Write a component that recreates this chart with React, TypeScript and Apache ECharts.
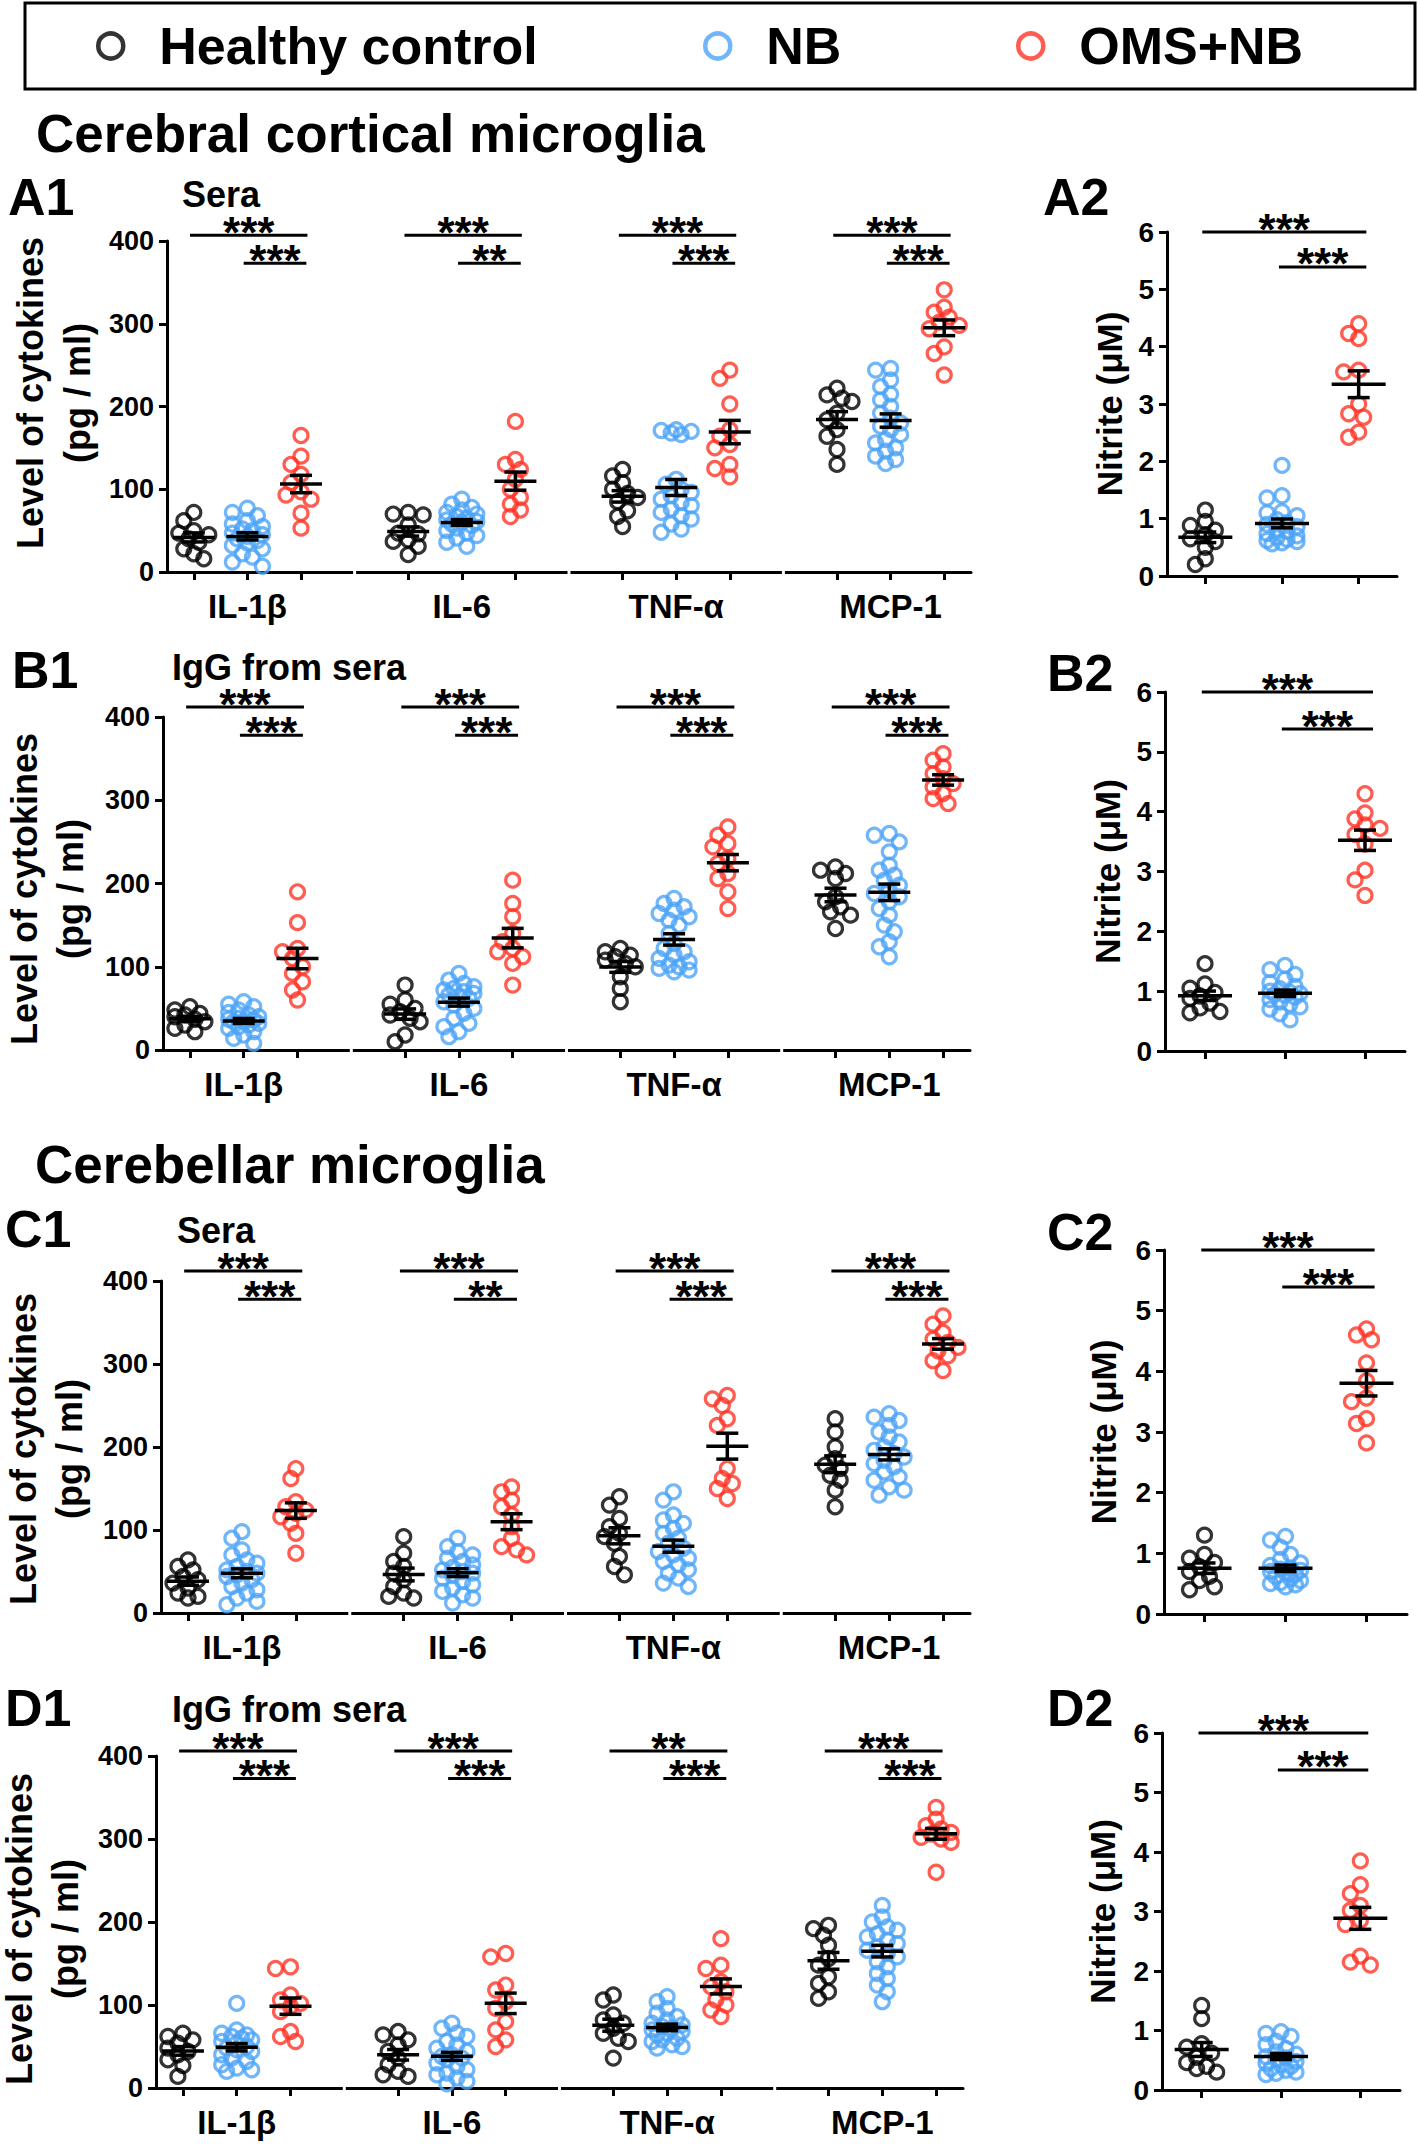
import React, { useEffect, useRef } from 'react';
import * as echarts from 'echarts';

// ---------------- data ----------------
const GROUPS = ['Healthy control', 'NB', 'OMS+NB'];
const CYTOKINES = ['IL-1β', 'IL-6', 'TNF-α', 'MCP-1'];
const SUBTITLES = ['Sera', 'IgG from sera', 'Sera', 'IgG from sera'];
const SECTION_TITLES = ['Cerebral cortical microglia', 'Cerebellar microglia'];
const CYTO_TITLE = ['Level of cytokines', '(pg / ml)'];
const NITRITE_TITLE = 'Nitrite (μM)';
const CYTO_AXIS = { min: 0, max: 400, interval: 100 };
const NITRITE_AXIS = { min: 0, max: 6, interval: 1 };

// A1 (cerebral cortical, sera) – per cytokine: IL-1β, IL-6, TNF-α, MCP-1
const A1_HC = [
  [72, 62, 50, 47, 45, 40, 36, 28, 22, 16],
  [72, 70, 69, 57, 47, 46, 39, 37, 31, 21],
  [124, 116, 108, 100, 95, 90, 85, 74, 67, 55],
  [222, 214, 210, 206, 192, 184, 172, 164, 148, 130],
];
const A1_NB = [
  [77, 72, 68, 62, 58, 55, 52, 50, 47, 45, 43, 40, 38, 35, 32, 28, 22, 18, 12, 7],
  [88, 82, 78, 75, 72, 70, 67, 65, 63, 61, 60, 58, 56, 53, 50, 47, 44, 41, 36, 31],
  [172, 171, 170, 168, 166, 112, 106, 100, 96, 92, 88, 84, 80, 76, 72, 68, 64, 58, 52, 48],
  [246, 244, 232, 224, 215, 208, 200, 192, 186, 180, 176, 172, 166, 160, 156, 150, 146, 140, 136, 131],
];
const A1_OMS = [
  [165, 140, 130, 118, 108, 97, 93, 88, 71, 53],
  [182, 136, 130, 124, 112, 100, 90, 82, 75, 67],
  [244, 234, 203, 172, 164, 154, 150, 130, 125, 115],
  [341, 320, 314, 308, 302, 298, 294, 272, 264, 238],
];
const A1_SIG = [['***', '***'], ['***', '**'], ['***', '***'], ['***', '***']];
const A1_SIG_Y = [407, 373];

// A2 nitrite
const A2_HC = [1.15, 0.95, 0.88, 0.8, 0.72, 0.65, 0.6, 0.5, 0.3, 0.2];
const A2_NB = [1.93, 1.4, 1.36, 1.12, 1.1, 1.05, 0.98, 0.93, 0.9, 0.86, 0.82, 0.78, 0.74, 0.7, 0.67, 0.64, 0.62, 0.6, 0.58, 0.56];
const A2_OMS = [4.4, 4.23, 4.14, 3.59, 3.56, 3.0, 2.83, 2.77, 2.51, 2.42];
const A2_SIG_Y = [6.0, 5.39];

// B1 (cerebral cortical, IgG from sera)
const B1_HC = [
  [52, 48, 44, 42, 40, 37, 34, 30, 26, 22],
  [78, 60, 55, 50, 46, 42, 38, 34, 18, 10],
  [122, 118, 114, 112, 108, 104, 100, 88, 74, 58],
  [220, 216, 212, 206, 184, 178, 172, 166, 162, 146],
];
const B1_NB = [
  [58, 55, 52, 48, 45, 42, 40, 38, 37, 36, 35, 34, 32, 30, 28, 26, 22, 18, 14, 8],
  [92, 84, 80, 76, 74, 72, 70, 68, 66, 64, 62, 58, 54, 50, 44, 38, 32, 28, 22, 16],
  [182, 176, 172, 168, 164, 160, 156, 150, 140, 128, 122, 118, 114, 110, 106, 102, 100, 98, 96, 94],
  [260, 258, 250, 238, 222, 216, 210, 204, 198, 192, 188, 184, 178, 170, 162, 150, 142, 130, 124, 112],
];
const B1_OMS = [
  [190, 153, 122, 118, 110, 100, 92, 82, 72, 60],
  [204, 176, 160, 140, 130, 122, 118, 112, 104, 78],
  [268, 258, 248, 244, 230, 224, 212, 206, 190, 170],
  [356, 348, 340, 332, 326, 320, 316, 308, 302, 296],
];
const B1_SIG = [['***', '***'], ['***', '***'], ['***', '***'], ['***', '***']];
const B1_SIG_Y = [412, 378];

// B2 nitrite
const B2_HC = [1.46, 1.12, 1.05, 0.98, 0.92, 0.88, 0.8, 0.72, 0.66, 0.64];
const B2_NB = [1.43, 1.36, 1.28, 1.2, 1.14, 1.08, 1.04, 1.0, 0.98, 0.96, 0.95, 0.93, 0.9, 0.86, 0.82, 0.78, 0.74, 0.7, 0.62, 0.52];
const B2_OMS = [4.3, 3.98, 3.88, 3.78, 3.72, 3.62, 3.46, 3.02, 2.86, 2.6];
const B2_SIG_Y = [6.0, 5.38];

// C1 (cerebellar, sera)
const C1_HC = [
  [64, 56, 52, 44, 40, 36, 30, 24, 20, 18],
  [92, 72, 62, 56, 48, 40, 32, 24, 20, 18],
  [140, 130, 114, 104, 96, 92, 84, 68, 56, 46],
  [234, 218, 200, 186, 178, 174, 166, 160, 148, 128],
];
const C1_NB = [
  [98, 90, 76, 70, 64, 60, 56, 52, 50, 48, 46, 44, 40, 36, 32, 28, 24, 18, 14, 10],
  [90, 80, 74, 70, 66, 62, 58, 55, 52, 50, 48, 45, 42, 38, 34, 30, 26, 22, 18, 12],
  [146, 136, 118, 112, 108, 102, 96, 90, 84, 78, 74, 70, 66, 62, 58, 52, 48, 42, 36, 32],
  [240, 236, 232, 226, 218, 212, 206, 200, 196, 192, 188, 184, 180, 176, 170, 164, 160, 152, 148, 142],
];
const C1_OMS = [
  [174, 162, 134, 128, 124, 120, 116, 108, 96, 72],
  [152, 146, 136, 128, 118, 104, 90, 80, 76, 70],
  [262, 258, 250, 234, 226, 174, 162, 156, 150, 138],
  [358, 348, 338, 330, 326, 320, 316, 310, 304, 292],
];
const C1_SIG = [['***', '***'], ['***', '**'], ['***', '***'], ['***', '***']];
const C1_SIG_Y = [412, 378];

// C2 nitrite
const C2_HC = [1.3, 0.98, 0.92, 0.85, 0.78, 0.7, 0.62, 0.55, 0.45, 0.4];
const C2_NB = [1.28, 1.22, 1.1, 0.98, 0.9, 0.84, 0.8, 0.76, 0.74, 0.72, 0.7, 0.68, 0.65, 0.62, 0.58, 0.55, 0.52, 0.5, 0.48, 0.45];
const C2_OMS = [4.7, 4.6, 4.52, 4.14, 3.84, 3.56, 3.5, 3.22, 3.14, 2.82];
const C2_SIG_Y = [6.0, 5.39];

// D1 (cerebellar, IgG from sera)
const D1_HC = [
  [66, 62, 58, 54, 48, 44, 40, 34, 27, 14],
  [68, 64, 58, 52, 44, 36, 28, 20, 16, 14],
  [112, 106, 88, 82, 78, 72, 66, 60, 56, 36],
  [196, 192, 184, 172, 156, 148, 134, 126, 116, 108],
];
const D1_NB = [
  [102, 70, 66, 64, 62, 60, 58, 56, 54, 50, 48, 46, 44, 40, 36, 32, 28, 24, 22, 20],
  [78, 72, 66, 62, 56, 52, 48, 44, 40, 38, 36, 34, 30, 26, 22, 18, 16, 12, 8, 5],
  [110, 104, 96, 90, 86, 82, 78, 76, 74, 72, 70, 68, 66, 64, 60, 58, 56, 52, 50, 48],
  [220, 206, 200, 194, 190, 186, 182, 178, 174, 170, 166, 162, 158, 152, 146, 138, 132, 124, 116, 104],
];
const D1_OMS = [
  [146, 144, 112, 106, 102, 98, 92, 68, 62, 56],
  [162, 158, 124, 118, 104, 96, 80, 70, 58, 50],
  [180, 148, 144, 128, 122, 116, 106, 100, 94, 86],
  [338, 324, 316, 312, 308, 306, 302, 300, 296, 260],
];
const D1_SIG = [['***', '***'], ['***', '***'], ['**', '***'], ['***', '***']];
const D1_SIG_Y = [406, 373];

// D2 nitrite
const D2_HC = [1.42, 1.2, 0.78, 0.72, 0.62, 0.55, 0.46, 0.4, 0.36, 0.3];
const D2_NB = [0.98, 0.95, 0.9, 0.82, 0.76, 0.7, 0.64, 0.6, 0.56, 0.54, 0.52, 0.48, 0.45, 0.42, 0.4, 0.36, 0.33, 0.3, 0.28, 0.26];
const D2_OMS = [3.85, 3.45, 3.3, 3.1, 3.02, 2.85, 2.78, 2.25, 2.15, 2.1];
const D2_SIG_Y = [6.0, 5.38];

const NITRITE_SIG = ['***', '***'];

// ---------------- styles / layout ----------------
const COLORS = ['#000000', '#4ca4f8', '#ff3425'];
const FONT = '"Liberation Sans", Arial, Helvetica, sans-serif';

const CYTO_PANELS = [
  { key: 'A1', data: [A1_HC, A1_NB, A1_OMS], sig: A1_SIG, sigY: A1_SIG_Y, grid: { left: 167, top: 241, width: 804, height: 331 }, ytitle: { x1: 30, x2: 77, y: 393 }, label: { x: 8, top: 171 }, sub: { x: 182, top: 176 } },
  { key: 'B1', data: [B1_HC, B1_NB, B1_OMS], sig: B1_SIG, sigY: B1_SIG_Y, grid: { left: 163, top: 717, width: 807, height: 333 }, ytitle: { x1: 24, x2: 70, y: 889 }, label: { x: 12, top: 644 }, sub: { x: 172, top: 649 } },
  { key: 'C1', data: [C1_HC, C1_NB, C1_OMS], sig: C1_SIG, sigY: C1_SIG_Y, grid: { left: 161, top: 1281, width: 809, height: 332 }, ytitle: { x1: 23, x2: 69, y: 1449 }, label: { x: 5, top: 1203 }, sub: { x: 177, top: 1212 } },
  { key: 'D1', data: [D1_HC, D1_NB, D1_OMS], sig: D1_SIG, sigY: D1_SIG_Y, grid: { left: 156, top: 1756, width: 807, height: 332 }, ytitle: { x1: 19, x2: 65, y: 1929 }, label: { x: 5, top: 1682 }, sub: { x: 172, top: 1691 } },
];
const NITRITE_PANELS = [
  { key: 'A2', data: [A2_HC, A2_NB, A2_OMS], sigY: A2_SIG_Y, grid: { left: 1167, top: 232, width: 230, height: 344 }, nameGap: 40, label: { x: 1043, top: 171 } },
  { key: 'B2', data: [B2_HC, B2_NB, B2_OMS], sigY: B2_SIG_Y, grid: { left: 1165, top: 692, width: 240, height: 359 }, nameGap: 40, label: { x: 1047, top: 647 } },
  { key: 'C2', data: [C2_HC, C2_NB, C2_OMS], sigY: C2_SIG_Y, grid: { left: 1164, top: 1250, width: 243, height: 364 }, nameGap: 43, label: { x: 1047, top: 1206 } },
  { key: 'D2', data: [D2_HC, D2_NB, D2_OMS], sigY: D2_SIG_Y, grid: { left: 1162, top: 1733, width: 238, height: 357 }, nameGap: 42, label: { x: 1047, top: 1682 } },
];
const SECTION_POS = [{ x: 36, top: 107 }, { x: 35, top: 1138 }];
const LEGEND_X = [96, 703, 1016];

// ---------------- helpers ----------------
function meanSem(v: number[]) {
  const n = v.length;
  const m = v.reduce((a, b) => a + b, 0) / n;
  const sd = Math.sqrt(v.reduce((a, b) => a + (b - m) * (b - m), 0) / (n - 1));
  return [m, sd / Math.sqrt(n)];
}

// deterministic beeswarm: horizontal offsets (in data units) so circles overlap little
function swarm(values: number[], yPx: number, xPx: number, D = 11, step = 5, maxOff = 16) {
  const order = values.map((_, i) => i).sort((a, b) => values[b] - values[a]);
  const placed: { x: number; y: number }[] = [];
  const offs = new Array(values.length).fill(0);
  const cands = [0];
  for (let k = 1; k * step <= maxOff; k++) cands.push(-k * step, k * step);
  for (const i of order) {
    const py = values[i] * yPx;
    let best = 0;
    let bestD = -1;
    for (const c of cands) {
      let md = Infinity;
      for (const p of placed) {
        const d = Math.hypot(p.x - c, p.y - py);
        if (d < md) md = d;
      }
      if (md >= D) { best = c; break; }
      if (md > bestD) { bestD = md; best = c; }
    }
    placed.push({ x: best, y: py });
    offs[i] = best / xPx;
  }
  return offs;
}

function scatterSeries(idx: number, g: number, pts: number[][]) {
  return {
    type: 'scatter', name: GROUPS[g], xAxisIndex: idx, yAxisIndex: idx, data: pts,
    symbol: 'circle', symbolSize: 14, clip: false, z: 2,
    itemStyle: { color: 'rgba(255,255,255,0)', borderColor: COLORS[g], borderWidth: 3.2 },
    emphasis: { disabled: true },
  };
}

function errSeries(idx: number, data: number[][], mw: number, cw: number) {
  return {
    type: 'custom', xAxisIndex: idx, yAxisIndex: idx, data, z: 5, clip: false, silent: true,
    renderItem: (_p: any, api: any) => {
      const x = api.value(0), m = api.value(1), s = api.value(2);
      const pm = api.coord([x, m]);
      const pt = api.coord([x, m + s]);
      const pb = api.coord([x, m - s]);
      const style = { stroke: '#000', lineWidth: 3.5, fill: null };
      return {
        type: 'group',
        children: [
          { type: 'line', shape: { x1: pm[0] - mw, y1: pm[1], x2: pm[0] + mw, y2: pm[1] }, style },
          { type: 'line', shape: { x1: pt[0], y1: pt[1], x2: pb[0], y2: pb[1] }, style },
          { type: 'line', shape: { x1: pt[0] - cw, y1: pt[1], x2: pt[0] + cw, y2: pt[1] }, style },
          { type: 'line', shape: { x1: pb[0] - cw, y1: pb[1], x2: pb[0] + cw, y2: pb[1] }, style },
        ],
      };
    },
  };
}

function sigSeries(idx: number, data: number[][], labels: string[]) {
  return {
    type: 'custom', xAxisIndex: idx, yAxisIndex: idx, data, z: 5, clip: false, silent: true,
    renderItem: (params: any, api: any) => {
      const a = api.coord([api.value(0), api.value(2)]);
      const b = api.coord([api.value(1), api.value(2)]);
      return {
        type: 'group',
        children: [
          { type: 'line', shape: { x1: a[0], y1: a[1], x2: b[0], y2: b[1] }, style: { stroke: '#000', lineWidth: 3 } },
          {
            type: 'text', x: (a[0] + b[0]) / 2, y: a[1] - 3,
            style: { text: labels[params.dataIndex], fill: '#000', fontSize: 44, fontWeight: 'bold', fontFamily: FONT, align: 'center', verticalAlign: 'middle', lineHeight: 16 },
          },
        ],
      };
    },
  };
}

function gapSeries(idx: number, positions: number[]) {
  return {
    type: 'custom', xAxisIndex: idx, yAxisIndex: idx, data: positions.map((p) => [p, 0]), z: 4, clip: false, silent: true,
    renderItem: (_p: any, api: any) => {
      const c = api.coord([api.value(0), 0]);
      return { type: 'rect', shape: { x: c[0] - 1.5, y: c[1] - 3, width: 3, height: 6 }, style: { fill: '#fff' } };
    },
  };
}

function buildOption() {
  const grid: any[] = [];
  const xAxis: any[] = [];
  const yAxis: any[] = [];
  const series: any[] = [];
  const title: any[] = [];
  const graphic: any[] = [
    { type: 'rect', shape: { x: 25, y: 3, width: 1390, height: 86 }, style: { fill: 'none', stroke: '#000', lineWidth: 3 }, silent: true },
  ];
  const axisLineStyle = { color: '#000', width: 3 };
  const boldText = (size: number) => ({ fontSize: size, fontWeight: 'bold', fontFamily: FONT, color: '#000' });

  CYTO_PANELS.forEach((p, pi) => {
    const idx = grid.length;
    grid.push({ ...p.grid, containLabel: false, outerBoundsMode: 'none' });
    const ticks: number[] = [];
    CYTOKINES.forEach((_, c) => ticks.push(4 * c, 4 * c + 1, 4 * c + 2));
    xAxis.push({
      gridIndex: idx, type: 'value', min: -0.5, max: 14.5,
      axisLine: { show: true, onZero: false, lineStyle: axisLineStyle },
      axisTick: { show: true, customValues: ticks, length: 8, lineStyle: axisLineStyle },
      axisLabel: {
        show: true, customValues: CYTOKINES.map((_, c) => 4 * c + 1),
        formatter: (v: number) => CYTOKINES[Math.round((v - 1) / 4)],
        ...boldText(33), margin: 18,
      },
      splitLine: { show: false },
    });
    yAxis.push({
      gridIndex: idx, type: 'value', ...CYTO_AXIS,
      axisLine: { show: true, onZero: false, lineStyle: axisLineStyle },
      axisTick: { show: true, length: 8, lineStyle: axisLineStyle },
      axisLabel: { ...boldText(27), margin: 13 },
      splitLine: { show: false },
    });
    // two-line rotated axis title
    [p.ytitle.x1, p.ytitle.x2].forEach((x, li) => {
      graphic.push({
        type: 'text', x, y: p.ytitle.y, rotation: Math.PI / 2, silent: true,
        style: { text: CYTO_TITLE[li], fill: '#000', fontSize: 36, fontWeight: 'bold', fontFamily: FONT, align: 'center', verticalAlign: 'middle' },
      });
    });
    const xPx = p.grid.width / 15;
    const yPx = p.grid.height / 400;
    const err: number[][] = [];
    p.data.forEach((groupData, g) => {
      const pts: number[][] = [];
      groupData.forEach((vals, c) => {
        const pos = 4 * c + g;
        const offs = swarm(vals, yPx, xPx);
        vals.forEach((v, k) => pts.push([pos + offs[k], v]));
        const [m, s] = meanSem(vals);
        err.push([pos, m, s]);
      });
      series.push(scatterSeries(idx, g, pts));
    });
    series.push(errSeries(idx, err, 21, 11));
    const sigData: number[][] = [];
    const sigLabels: string[] = [];
    CYTOKINES.forEach((_, c) => {
      sigData.push([4 * c - 0.07, 4 * c + 2.12, p.sigY[0]]);
      sigLabels.push(p.sig[c][0]);
      sigData.push([4 * c + 0.93, 4 * c + 2.1, p.sigY[1]]);
      sigLabels.push(p.sig[c][1]);
    });
    series.push(sigSeries(idx, sigData, sigLabels));
    series.push(gapSeries(idx, [3, 7, 11]));
    title.push({ text: p.key, left: p.label.x, top: p.label.top, padding: 0, textStyle: boldText(52) });
    title.push({ text: SUBTITLES[pi], left: p.sub.x, top: p.sub.top, padding: 0, textStyle: boldText(36) });
  });

  NITRITE_PANELS.forEach((p) => {
    const idx = grid.length;
    grid.push({ ...p.grid, containLabel: false, outerBoundsMode: 'none' });
    xAxis.push({
      gridIndex: idx, type: 'value', min: -0.5, max: 2.5,
      axisLine: { show: true, onZero: false, lineStyle: axisLineStyle },
      axisTick: { show: true, customValues: [0, 1, 2], length: 8, lineStyle: axisLineStyle },
      axisLabel: { show: false },
      splitLine: { show: false },
    });
    yAxis.push({
      gridIndex: idx, type: 'value', ...NITRITE_AXIS,
      axisLine: { show: true, onZero: false, lineStyle: axisLineStyle },
      axisTick: { show: true, length: 8, lineStyle: axisLineStyle },
      axisLabel: { ...boldText(28), margin: 13 },
      splitLine: { show: false },
      name: NITRITE_TITLE, nameLocation: 'middle', nameRotate: 90, nameGap: p.nameGap,
      nameMoveOverlap: false,
      nameTextStyle: boldText(35),
    });
    const xPx = p.grid.width / 3;
    const yPx = p.grid.height / 6;
    const err: number[][] = [];
    p.data.forEach((vals, g) => {
      const offs = swarm(vals, yPx, xPx);
      const pts = vals.map((v, k) => [g + offs[k], v]);
      const [m, s] = meanSem(vals);
      err.push([g, m, s]);
      series.push(scatterSeries(idx, g, pts));
    });
    series.push(errSeries(idx, err, 27, 11));
    series.push(sigSeries(idx, [[-0.04, 2.1, p.sigY[0]], [0.96, 2.1, p.sigY[1]]], NITRITE_SIG));
    title.push({ text: p.key, left: p.label.x, top: p.label.top, padding: 0, textStyle: boldText(52) });
  });

  SECTION_TITLES.forEach((t, i) => {
    title.push({ text: t, left: SECTION_POS[i].x, top: SECTION_POS[i].top, padding: 0, textStyle: boldText(53) });
  });

  const legend = GROUPS.map((g, i) => ({
    data: [g], left: LEGEND_X[i], top: 20, padding: 0, itemWidth: 25, itemHeight: 25, selectedMode: false,
    itemStyle: { color: 'rgba(255,255,255,0)', borderColor: COLORS[i], borderWidth: 4.5 },
    textStyle: { ...boldText(52), padding: [0, 0, 0, 31] },
  }));

  return {
    animation: false,
    backgroundColor: '#ffffff',
    title, legend, grid, xAxis, yAxis, series, graphic,
  };
}

export default function App() {
  const ref = useRef<HTMLDivElement>(null);
  useEffect(() => {
    document.body.style.margin = '0';
    const chart = echarts.init(ref.current as HTMLDivElement, null, { renderer: 'svg' });
    chart.setOption(buildOption() as any);
    return () => chart.dispose();
  }, []);
  return <div ref={ref} style={{ width: 1418, height: 2144, background: '#fff' }} />;
}
